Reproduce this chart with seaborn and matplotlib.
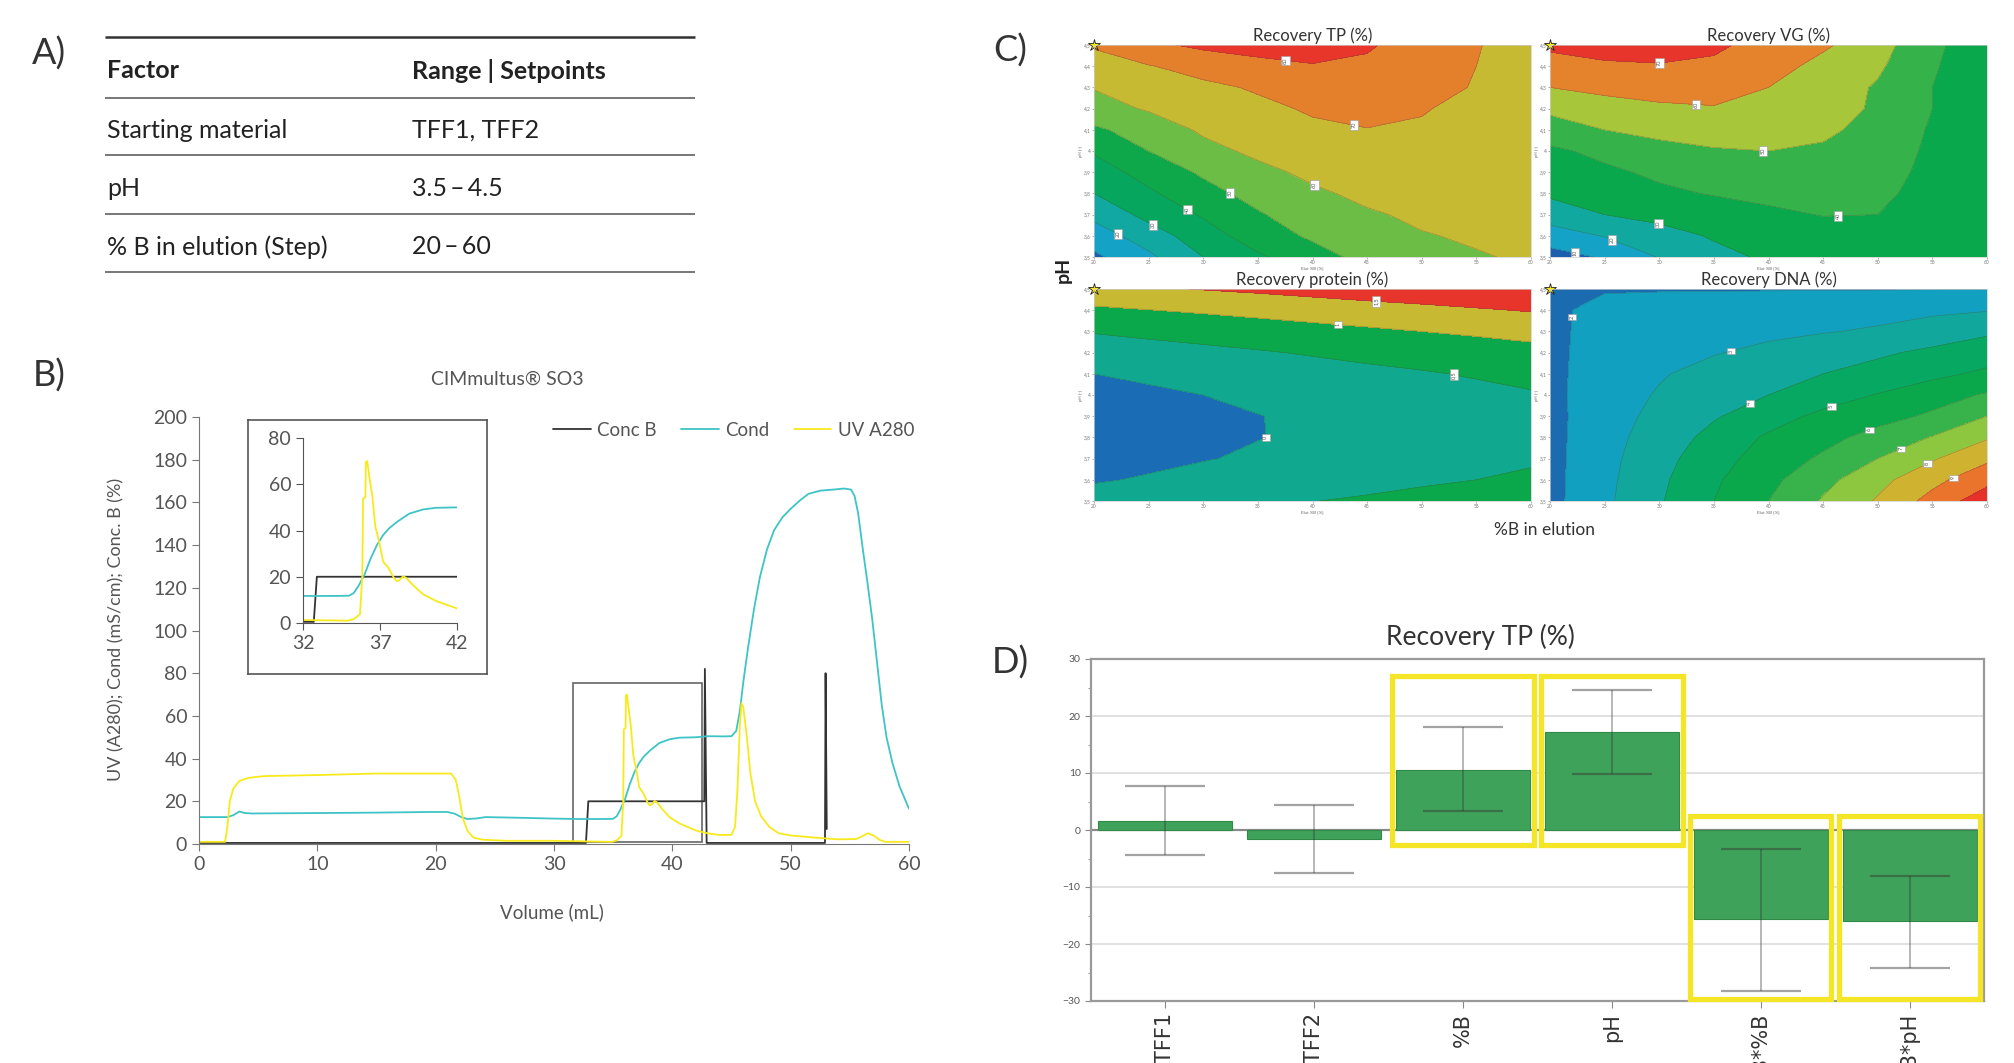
import matplotlib
matplotlib.use("Agg")
import matplotlib.pyplot as plt
from matplotlib.patches import Rectangle
import numpy as np
import seaborn as sns

sns.set_style("white")
plt.rcParams["font.family"] = ["Lato", "DejaVu Sans"]

W, H = 2014, 1063

# ---------------- A) factor table
factors = ["Starting material", "pH", "% B in elution (Step)"]
setpoints = ["TFF1, TFF2", "3.5\u2009\u2013\u20094.5", "20\u2009\u2013\u200960"]

# ---------------- B) chromatogram (volume in mL)
cond_vol = [0, 2.4, 2.9, 3.4, 3.9, 4.5, 10, 15, 19.5, 21.0, 21.6, 22.2, 22.7, 23.5, 24.2, 27, 30, 32,
            34, 35.0, 35.3, 35.6, 36.0, 36.4, 36.8, 37.2, 37.6, 38.1, 38.9, 39.8, 40.6, 42, 43, 44.3,
            45.0, 45.4, 45.7, 46.0, 46.4, 46.9, 47.4, 48.0, 48.6, 49.3, 50.0, 50.8, 51.5, 52.5, 53.6,
            54.5, 55.1, 55.4, 55.7, 56.1, 56.5, 56.9, 57.3, 57.7, 58.1, 58.6, 59.2, 60]
cond_val = [12.6, 12.6, 13.5, 15.2, 14.5, 14.3, 14.5, 14.7, 15.0, 15.0, 14.2, 12.5, 11.7, 12.0, 12.6, 12.3,
            11.9, 11.7, 11.7, 11.8, 13, 16, 21, 28, 33.7, 38, 41, 43.7, 47.3, 49.1, 49.8, 50, 50.5, 50.4,
            50.5, 53, 62, 76, 92, 110, 125, 138, 147, 153, 157, 161, 164, 165.5, 166, 166.5, 166, 163,
            155, 138, 122, 105, 85, 65, 50, 38, 27, 16.5]

uv_vol = [0, 2.2, 2.4, 2.6, 2.9, 3.4, 4.2, 5.5, 10, 15, 20, 21.3, 21.7, 22.0, 22.3, 22.7, 23.2, 24, 26,
          30, 34.9, 35.3, 35.7, 35.85, 35.9, 36.05, 36.08, 36.17, 36.3, 36.5, 36.7, 36.95, 37.2, 37.55,
          37.9, 38.1, 38.3, 38.5, 38.7, 39.2, 39.8, 40.65, 42, 43, 44, 45, 45.3, 45.5, 45.7, 45.85, 46.0,
          46.3, 46.6, 47.0, 47.5, 48.2, 49, 50, 52, 54, 55.5, 56, 56.5, 57, 57.5, 58, 60]
uv_val = [1, 1, 8, 20, 26, 29.5, 31, 31.8, 32.3, 33, 33, 33, 30, 22, 12, 6, 3, 2, 1.5,
          1.5, 1.0, 1.7, 3.8, 20, 53.7, 54.4, 69.6, 70, 63.6, 55, 41.6, 35, 26.6, 23.8,
          19.5, 18, 18.8, 20.2, 19.5, 16, 12.4, 9.5, 6.3, 5, 4.2, 4.3, 8, 25, 55, 66, 64,
          50, 33, 20, 13, 8, 5, 4, 3, 2.2, 2.3, 3.5, 5, 4, 2, 1, 1]

concb_vol = [0, 32.7, 32.9, 42.7, 42.75, 42.9, 52.9, 52.95, 53.05]
concb_val = [0.5, 0.5, 20, 20, 82, 0.5, 0.5, 80, 7]

# ---------------- C) response surfaces, rows = pH 3.5 ... 4.5, columns = %B 20 ... 60
b_grid = [20, 25, 30, 35, 40, 45, 50, 55, 60]
ph_grid = [3.5, 3.6, 3.7, 3.8, 3.9, 4.0, 4.1, 4.2, 4.3, 4.4, 4.5]
best_b, best_ph = 20, 4.5

rec_tp = [
    [8, 18, 30, 38.5, 46, 53, 57, 59.4, 61],
    [15, 25, 35.5, 45, 51.5, 56, 59.5, 61, 60.5],
    [22.5, 33, 41, 49, 55.5, 59, 61.5, 62, 61],
    [30, 38.5, 46.5, 53.5, 58.5, 62, 63.5, 63, 61.5],
    [35.5, 43.5, 51.5, 57.5, 62, 64.5, 65, 63.8, 62],
    [41, 50, 57, 62, 65.5, 67, 67, 65, 62.5],
    [48.5, 54, 61.5, 65.5, 68.5, 69.8, 69, 66.5, 63],
    [56, 61, 64.5, 68, 71, 72, 70.6, 67.5, 64],
    [60.5, 64, 68, 71, 73.5, 74, 72.5, 69.5, 65],
    [66, 69.5, 73.5, 77, 79.5, 78.5, 75, 70, 65.5],
    [71, 78, 82, 84, 83.5, 81, 76, 70.5, 66],
]
rec_vg = [
    [6, 11, 20.5, 27, 31.5, 34, 34.5, 33, 30],
    [15, 20.5, 26, 31, 34.5, 36.5, 37, 35, 30.5],
    [25, 30, 33, 36, 38.5, 40.3, 40, 37, 31],
    [31.5, 35, 38.5, 40.5, 42, 42.5, 41.5, 37.5, 31],
    [35, 38.5, 41.5, 44, 45.5, 45.5, 43, 38, 31],
    [38.5, 42, 46, 49, 50, 48.5, 44.5, 38.5, 31.5],
    [44.5, 50, 53.5, 55, 55, 52, 46.5, 39, 32],
    [52.5, 56, 58.5, 59.5, 58.5, 54.5, 48.5, 40, 32.5],
    [60, 62.5, 63.5, 63, 60, 55, 49, 40, 33],
    [66, 68.5, 69.5, 68.5, 64, 57, 51.5, 41, 33.5],
    [72, 74, 73, 71.5, 67, 61.5, 54, 42, 34],
]
rec_protein = [
    [0.18, 0.26, 0.33, 0.41, 0.49, 0.56, 0.64, 0.72, 0.79],
    [-0.04, 0.04, 0.12, 0.19, 0.27, 0.35, 0.43, 0.50, 0.58],
    [-0.18, -0.10, -0.02, 0.05, 0.13, 0.21, 0.28, 0.36, 0.44],
    [-0.24, -0.17, -0.09, -0.01, 0.06, 0.14, 0.22, 0.30, 0.37],
    [-0.24, -0.16, -0.08, -0.01, 0.07, 0.15, 0.23, 0.30, 0.38],
    [-0.16, -0.08, 0.00, 0.08, 0.15, 0.23, 0.31, 0.38, 0.46],
    [0.00, 0.08, 0.15, 0.23, 0.31, 0.39, 0.46, 0.54, 0.62],
    [0.23, 0.31, 0.38, 0.46, 0.54, 0.62, 0.69, 0.77, 0.85],
    [0.53, 0.61, 0.69, 0.76, 0.84, 0.92, 1.00, 1.07, 1.15],
    [0.91, 0.99, 1.06, 1.14, 1.22, 1.30, 1.37, 1.45, 1.53],
    [1.36, 1.44, 1.52, 1.59, 1.67, 1.75, 1.82, 1.90, 1.98],
]
rec_dna = [
    [1.7, 2.8, 3.9, 5.0, 6.0, 7.1, 8.1, 9.35, 10.6],
    [1.7, 2.75, 3.8, 4.85, 5.75, 6.7, 7.7, 8.7, 9.7],
    [1.7, 2.7, 3.65, 4.6, 5.45, 6.15, 7.0, 7.9, 8.8],
    [1.7, 2.65, 3.45, 4.3, 5.15, 5.7, 6.35, 7.05, 7.9],
    [1.7, 2.6, 3.25, 3.9, 4.55, 5.25, 5.65, 6.15, 7.0],
    [1.75, 2.55, 3.08, 3.55, 4.0, 4.5, 5.05, 5.6, 6.1],
    [1.75, 2.5, 2.92, 3.3, 3.65, 4.0, 4.35, 4.75, 5.2],
    [1.75, 2.45, 2.75, 2.95, 3.2, 3.5, 3.85, 4.2, 4.5],
    [1.75, 2.4, 2.6, 2.7, 2.82, 2.95, 3.1, 3.45, 3.85],
    [1.75, 2.35, 2.5, 2.55, 2.6, 2.65, 2.72, 2.82, 2.95],
    [1.6, 1.9, 1.92, 1.93, 1.94, 1.95, 1.96, 1.97, 1.98],
]

# ---------------- D) effect estimates for Recovery TP (%)
terms = ["TFF1", "TFF2", "%B", "pH", "%B*%B", "%B*pH"]
estimate = [1.65, -1.65, 10.6, 17.2, -15.7, -16.0]
ci_low = [-4.3, -7.6, 3.35, 9.9, -28.2, -24.2]
ci_high = [7.7, 4.3, 18.0, 24.5, -3.3, -8.0]
highlight = ["%B", "pH", "%B*%B", "%B*pH"]
highlight_low = [-2.6, -2.6, -29.65, -29.65]
highlight_high = [27.0, 27.0, 2.4, 2.4]


def px(l, t, r, b):
    return [l / W, 1 - b / H, (r - l) / W, (b - t) / H]


fig = plt.figure(figsize=(W / 100, H / 100), dpi=100)

for letter, (x, y) in zip("ABCD", [(49, 54), (49, 376), (1010, 51), (1010, 663)]):
    fig.text(x / W, 1 - y / H, letter + ")", fontsize=26, color="#333333", ha="center", va="center")

# ---- A
ax_a = fig.add_axes(px(100, 25, 710, 285))
ax_a.set_xlim(100, 710)
ax_a.set_ylim(285, 25)
ax_a.axis("off")
ax_a.hlines(37, 105, 695, color="#333333", lw=1.8)
ax_a.hlines([98, 155, 214, 272], 105, 695, color="#777777", lw=1.4)
ax_a.text(107, 71, "Factor", fontsize=18, fontweight="bold", color="#222222", va="center")
ax_a.text(412, 71, "Range | Setpoints", fontsize=18, fontweight="bold", color="#222222", va="center")
for yy, f, s in zip([130, 189, 247], factors, setpoints):
    ax_a.text(107, yy, f, fontsize=18, color="#222222", va="center")
    ax_a.text(412, yy, s, fontsize=18, color="#222222", va="center")

# ---- B
c_conc, c_cond, c_uv = "#333333", "#3ec4c6", "#f7ea1c"
ax_b = fig.add_axes(px(199, 417, 909, 844))
sns.lineplot(x=concb_vol, y=concb_val, ax=ax_b, color=c_conc, lw=1.3, label="Conc B", estimator=None)
sns.lineplot(x=cond_vol, y=cond_val, ax=ax_b, color=c_cond, lw=1.3, label="Cond", estimator=None)
sns.lineplot(x=uv_vol, y=uv_val, ax=ax_b, color=c_uv, lw=1.3, label="UV A280", estimator=None)
ax_b.add_patch(Rectangle((31.6, 0.9), 10.9, 74.4, fill=False, ec="#666666", lw=1.2))
ax_b.set_xlim(0, 60)
ax_b.set_ylim(0, 200)
ax_b.set_xticks(range(0, 61, 10))
ax_b.set_yticks(range(0, 201, 20))
for s in ["top", "right"]:
    ax_b.spines[s].set_visible(False)
for s in ["left", "bottom"]:
    ax_b.spines[s].set_color("#777777")
ax_b.tick_params(labelsize=14, colors="#777777", labelcolor="#555555", length=5, direction="out",
                 left=True, bottom=True)
ax_b.set_xlabel("")
ax_b.set_ylabel("")
ax_b.legend(loc="center left", bbox_to_anchor=(553 / W, 1 - 430 / H), bbox_transform=fig.transFigure,
            ncol=3, frameon=False, fontsize=13.5, labelcolor="#555555", handlelength=2.0,
            columnspacing=1.3, handletextpad=0.35, borderpad=0, borderaxespad=0)
fig.text(507 / W, 1 - 379 / H, "CIMmultus\u00ae SO3", fontsize=14, color="#555555", ha="center", va="center")
fig.text(552 / W, 1 - 912 / H, "Volume (mL)", fontsize=13.5, color="#555555", ha="center", va="center")
fig.text(116 / W, 1 - 629 / H, "UV (A280); Cond (mS/cm); Conc. B (%)", fontsize=13, color="#555555",
         ha="center", va="center", rotation=90)

frame = fig.add_axes(px(248, 420, 487, 674))
frame.set_xticks([])
frame.set_yticks([])
for s in frame.spines.values():
    s.set_color("#555555")
    s.set_linewidth(1.2)

ax_in = fig.add_axes(px(303, 438, 457, 623))
ax_in.plot(concb_vol, concb_val, color=c_conc, lw=1.3)
ax_in.plot(cond_vol, cond_val, color=c_cond, lw=1.3)
ax_in.plot(uv_vol, uv_val, color=c_uv, lw=1.3)
ax_in.set_xlim(32, 42)
ax_in.set_ylim(0, 80)
ax_in.set_xticks([32, 37, 42])
ax_in.set_yticks(range(0, 81, 20))
ax_in.patch.set_alpha(0)
for s in ["top", "right"]:
    ax_in.spines[s].set_visible(False)
for s in ["left", "bottom"]:
    ax_in.spines[s].set_color("#555555")
ax_in.tick_params(labelsize=14, colors="#555555", labelcolor="#555555", length=5, direction="out",
                  left=True, bottom=True)


# ---- C
def draw_surface(rect, z, levels, colors, title, label_pos):
    ax = fig.add_axes(px(*rect))
    zz = np.array(z)
    fill_levels = [zz.min() - 1] + levels + [zz.max() + 1]
    ax.contourf(b_grid, ph_grid, zz, levels=fill_levels, colors=colors)
    cs = ax.contour(b_grid, ph_grid, zz, levels=levels, colors="#4a4a4a", linewidths=0.4, alpha=0.45)
    texts = ax.clabel(cs, fmt=lambda v: f"{v:g}".replace(".", ","), manual=label_pos, inline=False,
                      fontsize=4, colors="#555555")
    for t in texts:
        t.set_rotation(90)
        t.set_alpha(1)
        t.set_bbox(dict(boxstyle="square,pad=0.3", fc="white", ec="#999999", lw=0.4))
    ax.plot([best_b], [best_ph], marker="*", ms=9, mfc="#f6e71c", mec="#222222", mew=0.6, clip_on=False)
    ax.set_xlim(20, 60)
    ax.set_ylim(3.5, 4.5)
    ax.set_xticks(b_grid)
    ax.set_yticks(ph_grid)
    ax.set_yticklabels([f"{v:g}".replace(".", ",") for v in ph_grid])
    ax.tick_params(labelsize=3.5, length=1.5, width=0.4, pad=1, colors="#777777", left=True, bottom=True)
    ax.set_xlabel("Elut %B [%]", fontsize=3.2, labelpad=0.5, color="#666666")
    ax.set_ylabel("pH [-]", fontsize=3.2, labelpad=0.5, color="#666666")
    for s in ax.spines.values():
        s.set_color("#cccccc")
        s.set_linewidth(0.5)
    ax.set_title(title, fontsize=12, color="#333333", pad=3)


draw_surface((1094, 45, 1531, 257), rec_tp, [10, 20, 30, 40, 50, 60, 70, 80],
             ["#1c5fae", "#14a2c6", "#11a8a2", "#06a65e", "#0ea84b", "#6cbd45", "#c5ba32", "#e47f2c", "#e8362a"],
             "Recovery TP (%)",
             [(37.5, 4.41), (43.7, 4.1), (40.1, 3.83), (32.4, 3.8), (28.5, 3.72), (25.4, 3.65), (22.2, 3.61)])
draw_surface((1550, 45, 1987, 257), rec_vg, [10, 20, 30, 40, 50, 60, 70],
             ["#1c5fae", "#14a2c6", "#11a8a0", "#0aa84c", "#35b24a", "#a8c63a", "#e5822c", "#e8352b"],
             "Recovery VG (%)",
             [(30, 4.42), (33.4, 4.23), (39.5, 4.0), (46.4, 3.68), (30, 3.68), (25.8, 3.6), (22.4, 3.54)])
draw_surface((1094, 289, 1531, 501), rec_protein, [0, 0.5, 1, 1.5],
             ["#1a6db4", "#10a88e", "#0aa84a", "#c7b931", "#e8352b"],
             "Recovery protein (%)",
             [(45.8, 4.44), (42.3, 4.33), (52.9, 4.09), (36, 3.78)])
draw_surface((1550, 289, 1987, 501), rec_dna, [2, 3, 4, 5, 6, 7, 8, 9, 10],
             ["#1a6bb0", "#12a0c0", "#12a79c", "#07a862", "#0aa84a", "#38b24a", "#8dc63f", "#cfb22f",
              "#ea742c", "#e8302a"],
             "Recovery DNA (%)",
             [(21.5, 4.37), (36.6, 4.2), (38.3, 3.96), (45.8, 3.94), (49.2, 3.84), (52.1, 3.75),
              (54.6, 3.67), (57, 3.6)])
fig.text(1063 / W, 1 - 270 / H, "pH", fontsize=14, fontweight="bold", color="#222222", rotation=90,
         ha="center", va="center")
fig.text(1545 / W, 1 - 530 / H, "%B in elution", fontsize=12.5, color="#333333", ha="center", va="center")

# ---- D
ax_d = fig.add_axes(px(1091, 659, 1984, 1001))
sns.barplot(x=terms, y=estimate, ax=ax_d, color="#3fa25b", saturation=1, width=0.9, errorbar=None,
            edgecolor="#2f8a48", linewidth=0.8, zorder=2)
est = np.array(estimate)
ax_d.errorbar(np.arange(len(terms)), est, yerr=[est - np.array(ci_low), np.array(ci_high) - est],
              fmt="none", ecolor=(0.2, 0.2, 0.2, 0.45), elinewidth=1.1, capsize=29, capthick=1.6, zorder=3)
for name, lo, hi in zip(highlight, highlight_low, highlight_high):
    i = terms.index(name)
    ax_d.add_patch(Rectangle((i - 0.475, lo), 0.95, hi - lo, fill=False, ec="#f4e526", lw=3.8,
                             zorder=4, clip_on=False))
ax_d.set_xlim(-0.5, 5.5)
ax_d.set_ylim(-30, 30)
ax_d.set_yticks(range(-30, 31, 10))
ax_d.set_yticks(range(-25, 30, 10), minor=True)
ax_d.grid(axis="y", color="#dcdcdc", lw=1.2, zorder=0)
ax_d.axhline(0, color="#8a8a8a", lw=1.6, zorder=1)
ax_d.set_xticks(range(len(terms)))
ax_d.set_xticklabels(terms, rotation=90, fontsize=15, family="DejaVu Sans", color="#333333")
ax_d.tick_params(axis="y", labelsize=7.5, labelcolor="#555555", colors="#888888", length=4, left=True)
ax_d.tick_params(axis="y", which="minor", length=2.5, left=True, colors="#888888")
ax_d.tick_params(axis="x", length=5, bottom=True, colors="#888888", labelcolor="#333333")
for s in ax_d.spines.values():
    s.set_color("#9a9a9a")
    s.set_linewidth(1.6)
ax_d.set_xlabel("")
ax_d.set_ylabel("")
fig.text(1480 / W, 1 - 637 / H, "Recovery TP (%)", fontsize=19, color="#333333", ha="center", va="center")

fig.savefig("out.png", dpi=100)
